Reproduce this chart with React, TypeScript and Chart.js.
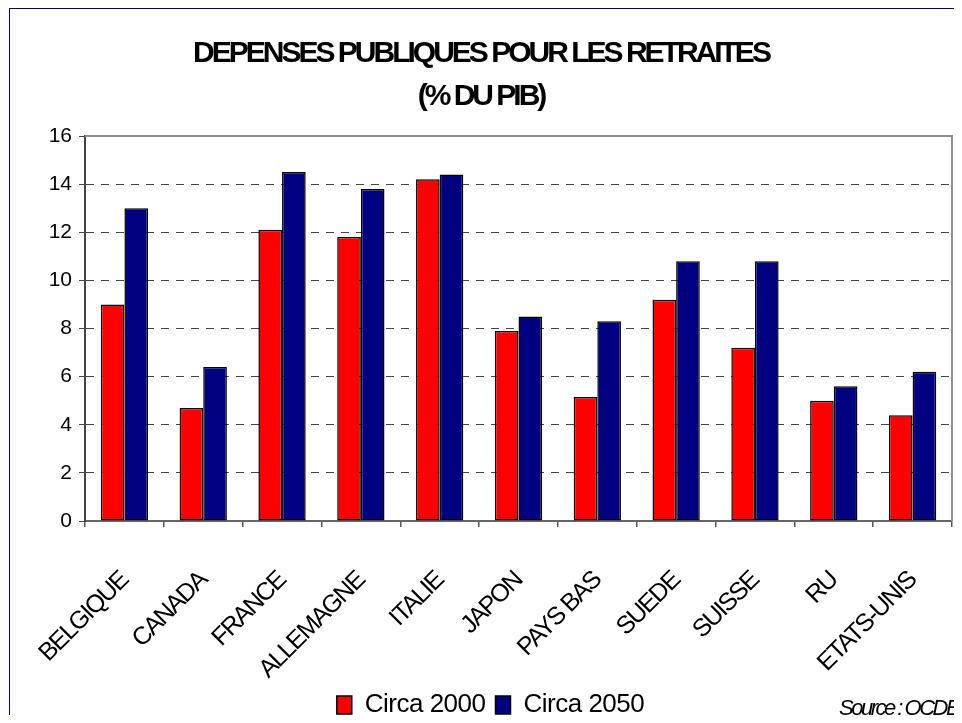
import React, { useEffect, useRef } from 'react';
import { Chart, registerables } from 'chart.js';

Chart.register(...registerables);

const categories = ['BELGIQUE', 'CANADA', 'FRANCE', 'ALLEMAGNE', 'ITALIE', 'JAPON', 'PAYS BAS', 'SUEDE', 'SUISSE', 'RU', 'ETATS-UNIS'];
const circa2000 = [9.0, 4.7, 12.1, 11.8, 14.2, 7.9, 5.15, 9.2, 7.2, 5.0, 4.4];
const circa2050 = [13.0, 6.4, 14.5, 13.8, 14.4, 8.5, 8.3, 10.8, 10.8, 5.6, 6.2];
const seriesNames = ['Circa 2000', 'Circa 2050'];
const titleLines = ['DEPENSES PUBLIQUES POUR LES RETRAITES', '(% DU PIB)'];
const sourceText = 'Source : OCDE';
const yMin = 0;
const yMax = 16;
const yStep = 2;

const FONT = "'Liberation Sans', Arial, sans-serif";

// tight letter spacing per font size (mimics the condensed rendering of the original)
const spacingBySize: Record<string, string> = {
  '30': '-3px',
  '25': '-1.7px',
  '26': '-0.5px',
  '22': '-2.5px',
};

function spacingFor(font: string): string {
  const m = /(\d+(?:\.\d+)?)px/.exec(font);
  if (!m) return '0px';
  return spacingBySize[m[1]] || '0px';
}

const framePlugin = {
  id: 'frameBox',
  afterLayout(chart: any) {
    if (chart.legend) {
      chart.legend.left += 9.5;
      chart.legend.right += 9.5;
    }
  },
  beforeDatasetsDraw(chart: any) {
    const { ctx, chartArea } = chart;
    ctx.save();
    ctx.strokeStyle = '#8f8f8f';
    ctx.lineWidth = 2;
    ctx.beginPath();
    ctx.moveTo(chartArea.left, chartArea.top);
    ctx.lineTo(chartArea.right, chartArea.top);
    ctx.lineTo(chartArea.right, chartArea.bottom);
    ctx.stroke();
    ctx.restore();
  },
};

const sourcePlugin = {
  id: 'sourceNote',
  afterDraw(chart: any) {
    const { ctx } = chart;
    ctx.save();
    ctx.font = `italic 22px ${FONT}`;
    ctx.fillStyle = '#000';
    ctx.textAlign = 'left';
    ctx.textBaseline = 'alphabetic';
    ctx.fillText(sourceText, 829, 706);
    ctx.restore();
  },
};

export default function App() {
  const ref = useRef<HTMLCanvasElement | null>(null);

  useEffect(() => {
    document.documentElement.style.overflow = 'hidden';
    const canvas = ref.current;
    if (!canvas) return;
    const c2d: any = canvas.getContext('2d');
    if (c2d && !c2d.__patched) {
      const fill = c2d.fillText.bind(c2d);
      const measure = c2d.measureText.bind(c2d);
      c2d.fillText = (t: string, x: number, y: number, mw?: number) => {
        c2d.letterSpacing = spacingFor(c2d.font);
        if (mw === undefined) fill(t, x, y);
        else fill(t, x, y, mw);
      };
      c2d.measureText = (t: string) => {
        c2d.letterSpacing = spacingFor(c2d.font);
        return measure(t);
      };
      c2d.__patched = true;
    }
    const chart = new Chart(canvas, {
      type: 'bar',
      data: {
        labels: categories,
        datasets: [
          {
            label: seriesNames[0],
            data: circa2000,
            backgroundColor: '#ff0000',
            borderColor: '#000000',
            borderWidth: 1.5,
            borderSkipped: false,
            categoryPercentage: 0.6,
            barPercentage: 1.0,
          },
          {
            label: seriesNames[1],
            data: circa2050,
            backgroundColor: '#000080',
            borderColor: '#000000',
            borderWidth: 1.5,
            borderSkipped: false,
            categoryPercentage: 0.6,
            barPercentage: 1.0,
          },
        ],
      },
      options: {
        responsive: false,
        animation: false,
        devicePixelRatio: 1,
        layout: { padding: { left: 0, right: 10, top: 0, bottom: -5 } },
        plugins: {
          title: {
            display: true,
            text: titleLines,
            color: '#000',
            font: { family: FONT, size: 30, weight: 'bold', lineHeight: '43px' },
            padding: { top: 23.5, bottom: 17.5 },
          },
          legend: {
            display: true,
            position: 'bottom',
            labels: {
              color: '#000',
              font: { family: FONT, size: 26 },
              boxWidth: 15,
              boxHeight: 18,
              padding: 10,
            },
          },
          tooltip: { enabled: false },
        },
        scales: {
          x: {
            afterFit(scale: any) {
              scale.height = 161;
              scale.paddingLeft = 0;
              scale.paddingRight = 0;
            },
            grid: {
              offset: true,
              drawOnChartArea: false,
              drawTicks: true,
              tickLength: 6,
              color: '#555',
              lineWidth: 1.5,
            },
            border: { display: true, color: '#666', width: 2 },
            ticks: {
              color: '#000',
              font: { family: FONT, size: 25 },
              minRotation: 45,
              maxRotation: 45,
              autoSkip: false,
              padding: 39,
            },
          },
          y: {
            min: yMin,
            max: yMax,
            afterFit(scale: any) {
              scale.width = 75;
            },
            grid: {
              color: '#444',
              lineWidth: 1,
              tickLength: 6,
              tickColor: '#444',
              tickBorderDash: [1, 0],
            },
            border: { display: true, color: '#444', width: 2, dash: [8, 7] },
            ticks: {
              stepSize: yStep,
              color: '#000',
              font: { family: FONT, size: 21 },
              padding: 7,
            },
          },
        },
      },
      plugins: [framePlugin, sourcePlugin],
    });
    return () => chart.destroy();
  }, []);

  return (
    <div
      style={{
        marginLeft: 1,
        marginBottom: -8,
        width: 953,
        height: 715,
        borderLeft: '1px solid #000080',
        borderTop: '1px solid #000080',
        boxSizing: 'border-box',
        overflow: 'hidden',
      }}
    >
      <canvas ref={ref} width={952} height={714} style={{ display: 'block', width: 952, height: 714 }} />
    </div>
  );
}
